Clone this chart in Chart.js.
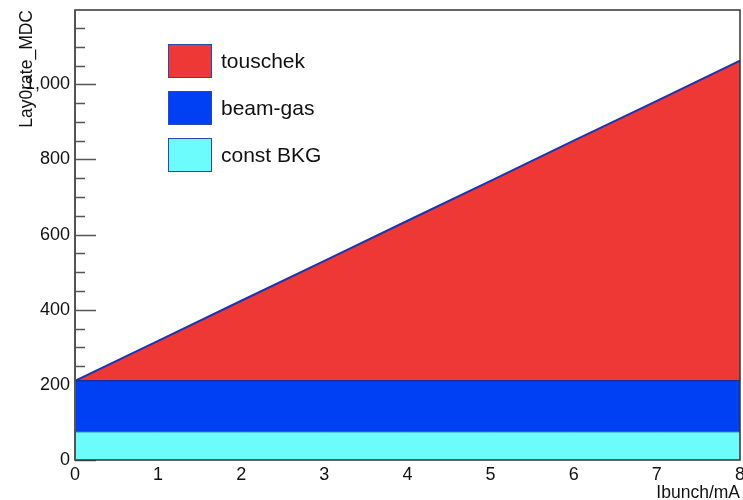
<!DOCTYPE html>
<html>
<head>
<meta charset="utf-8">
<script src="https://cdn.jsdelivr.net/npm/chart.js@4/dist/chart.umd.min.js"></script>
<style>
  html, body { margin: 0; padding: 0; background: #ffffff; }
  #wrap { width: 743px; height: 500px; }
</style>
</head>
<body>
<div id="wrap"><canvas id="c" width="743" height="500"></canvas></div>
<script>
// Bunch current (mA) and stacked background rate components
const ibunch     = [0, 1, 2, 3, 4, 5, 6, 7, 8];
const constBKG   = [75, 75, 75, 75, 75, 75, 75, 75, 75];
const beamGas    = [136, 136, 136, 136, 136, 136, 136, 136, 136];
const touschek   = [0, 106, 213, 319, 426, 532, 639, 745, 852];

const xTickValues = [0, 1, 2, 3, 4, 5, 6, 7, 8];
const yTickValues = [0, 200, 400, 600, 800, 1000];
const yMinorStep  = 50;
const yMax        = 1198;

const FONT = "'Liberation Sans', Arial, Helvetica, sans-serif";

function pts(vals) { return ibunch.map((x, i) => ({ x: x, y: vals[i] })); }

// Inward y ticks (drawn beneath the filled areas), frame, legend and axis titles
const rootStyle = {
  id: 'rootStyle',
  beforeDatasetsDraw(chart) {
    const ctx = chart.ctx;
    const a = chart.chartArea;
    const ys = chart.scales.y;
    ctx.save();
    ctx.strokeStyle = '#555555';
    ctx.lineWidth = 1.5;
    for (let v = 0; v <= yMax; v += yMinorStep) {
      const py = Math.round(ys.getPixelForValue(v)) + 0.5;
      const major = yTickValues.includes(v);
      ctx.beginPath();
      ctx.moveTo(a.left, py);
      ctx.lineTo(a.left + (major ? 21 : 10), py);
      ctx.stroke();
    }
    ctx.restore();
  },
  afterDatasetsDraw(chart) {
    const ctx = chart.ctx;
    const a = chart.chartArea;
    ctx.save();
    // frame
    ctx.strokeStyle = '#333333';
    ctx.lineWidth = 1.5;
    ctx.strokeRect(a.left, a.top, a.right - a.left, a.bottom - a.top);
    ctx.strokeStyle = '#555555';
    ctx.lineWidth = 2;
    ctx.beginPath();
    ctx.moveTo(a.left, a.top);
    ctx.lineTo(a.left, a.bottom);
    ctx.stroke();

    // legend (top entry = top of the stack)
    const ds = chart.data.datasets.slice().reverse();
    const bx = 168, bw = 44, bh = 34;
    ctx.font = '21px ' + FONT;
    ctx.textBaseline = 'middle';
    ctx.textAlign = 'left';
    ds.forEach((d, i) => {
      const by = 44 + i * 47;
      ctx.fillStyle = d.backgroundColor;
      ctx.fillRect(bx, by, bw, bh);
      ctx.strokeStyle = '#2b48b0';
      ctx.lineWidth = 1;
      ctx.strokeRect(bx + 0.5, by + 0.5, bw - 1, bh - 1);
      ctx.fillStyle = '#111111';
      ctx.fillText(d.label, 221, by + bh / 2 + 1);
    });

    // axis titles
    ctx.fillStyle = '#111111';
    ctx.font = '17.5px ' + FONT;
    ctx.textBaseline = 'alphabetic';
    ctx.textAlign = 'right';
    ctx.fillText('Ibunch/mA', 740, 498);
    ctx.translate(32, 10);
    ctx.rotate(-Math.PI / 2);
    ctx.fillText('Lay0rate_MDC', 0, 0);
    ctx.restore();
  }
};

new Chart(document.getElementById('c'), {
  type: 'line',
  data: {
    datasets: [
      {
        label: 'const BKG',
        data: pts(constBKG),
        backgroundColor: 'rgb(108,252,252)',
        borderColor: '#1d4a9a',
        borderWidth: 1,
        fill: 'origin'
      },
      {
        label: 'beam-gas',
        data: pts(beamGas),
        backgroundColor: 'rgb(0,64,245)',
        borderColor: '#1530a0',
        borderWidth: 1.5,
        fill: '-1'
      },
      {
        label: 'touschek',
        data: pts(touschek),
        backgroundColor: 'rgb(238,56,54)',
        borderColor: '#1a35b0',
        borderWidth: 2,
        fill: '-1'
      }
    ]
  },
  options: {
    responsive: false,
    animation: false,
    devicePixelRatio: 1,
    layout: { padding: { top: 10, right: 3, left: 0, bottom: 0 } },
    elements: { point: { radius: 0 }, line: { tension: 0 } },
    plugins: { legend: { display: false }, tooltip: { enabled: false } },
    scales: {
      x: {
        type: 'linear',
        min: 0,
        max: 8,
        grid: { display: false, drawTicks: false },
        border: { display: false },
        afterBuildTicks(scale) { scale.ticks = xTickValues.map(v => ({ value: v })); },
        afterFit(scale) { scale.height = 40; scale.paddingLeft = 0; scale.paddingRight = 0; },
        ticks: {
          padding: 4,
          maxRotation: 0,
          autoSkip: false,
          color: '#111111',
          font: { family: FONT, size: 18 }
        }
      },
      y: {
        type: 'linear',
        stacked: true,
        min: 0,
        max: yMax,
        grid: { display: false, drawTicks: false },
        border: { display: false },
        afterBuildTicks(scale) { scale.ticks = yTickValues.map(v => ({ value: v })); },
        afterFit(scale) { scale.width = 75; scale.paddingTop = 0; scale.paddingBottom = 0; },
        ticks: {
          padding: 5,
          autoSkip: false,
          color: '#111111',
          font: { family: FONT, size: 18 }
        }
      }
    }
  },
  plugins: [rootStyle]
});
</script>
</body>
</html>
